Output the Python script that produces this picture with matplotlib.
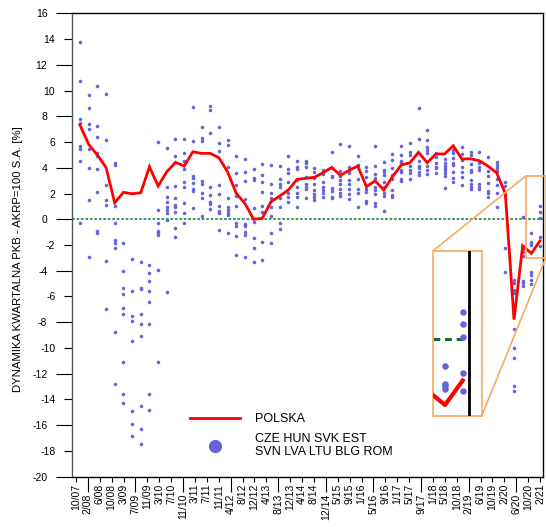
import numpy as np
import matplotlib
matplotlib.use('Agg')
import matplotlib.pyplot as plt
from matplotlib.lines import Line2D
from matplotlib.patches import Rectangle, ConnectionPatch

plt.rcParams['font.family'] = ['Liberation Sans', 'DejaVu Sans']
plt.rcParams['axes.unicode_minus'] = False

# ---------------- data ----------------
tick_labels = ['10/07', '2/08', '6/08', '10/08', '3/09', '7/09', '11/09', '3/10',
               '7/10', '11/10', '3/11', '7/11', '11/11', '4/12', '8/12', '12/12',
               '4/13', '8/13', '12/13', '4/14', '8/14', '12/14', '5/15', '9/15',
               '1/16', '5/16', '9/16', '1/17', '5/17', '9/17', '1/18', '5/18',
               '10/18', '2/19', '6/19', '10/19', '2/20', '6/20', '10/20', '2/21']

# Poland, quarterly 2007Q4 .. 2021Q1
polska = [7.31, 5.82, 4.99, 4.03, 1.28, 2.09, 1.98, 2.06, 4.08, 2.58,
          3.69, 4.42, 4.13, 5.24, 5.12, 5.12, 4.78, 3.69, 2.01, 1.23,
          0.00, 0.07, 1.36, 1.80, 2.27, 3.10, 3.18, 3.26, 3.61, 4.03,
          3.41, 3.80, 4.13, 2.53, 2.99, 2.27, 3.30, 4.21, 4.39, 5.20,
          4.39, 5.07, 5.07, 5.71, 4.68, 4.70, 4.55, 4.13, 3.61, 2.00,
          -7.80, -2.06, -2.65, -1.67]

# CZE HUN SVK EST SVN LVA LTU BLG ROM, per quarter
regional = [
    [13.79, 10.74, 7.79, 7.50, 5.71, 5.43, 4.50, -0.27],
    [9.65, 8.62, 7.37, 6.98, 5.43, 4.00, 1.49, -2.91],
    [10.35, 7.27, 6.36, 5.12, 4.93, 3.90, 2.14, -0.92, -1.05],
    [9.73, 6.15, 2.66, 1.49, 1.10, -3.22, -7.00],
    [4.39, 4.21, 1.03, -0.30, -1.62, -1.87, -2.26, -8.74, -12.83],
    [-1.87, -4.02, -5.37, -5.84, -6.88, -7.39, -11.12, -13.60, -14.30],
    [-3.07, -5.56, -7.52, -7.94, -9.49, -14.90, -15.94, -16.87],
    [-3.35, -5.37, -5.45, -7.39, -8.14, -9.05, -14.51, -16.27, -17.49],
    [-3.56, -4.16, -4.83, -5.60, -6.46, -8.14, -13.60, -14.82],
    [6.02, 0.70, -0.32, -0.92, -1.05, -1.23, -3.95, -11.12],
    [5.51, 2.53, 1.75, 1.31, 0.97, 0.71, 0.45, -0.06, -5.66],
    [6.23, 4.93, 2.58, 1.62, 1.10, 0.97, 0.58, -0.66, -1.41],
    [6.23, 5.12, 4.52, 3.88, 2.87, 2.53, 1.24, 0.51, -0.32],
    [8.69, 6.10, 3.38, 3.18, 2.79, 2.32, 2.19, 0.85],
    [7.19, 6.33, 6.08, 2.97, 2.74, 2.01, 1.62, 0.25],
    [8.80, 8.49, 6.67, 2.53, 1.88, 1.36, 1.18, 0.77],
    [7.19, 5.90, 5.32, 2.66, 1.96, 1.03, 0.64, 0.51, -0.84],
    [6.15, 5.77, 4.08, 1.62, 0.97, 0.71, 0.51, 0.33, -1.10],
    [4.93, 3.60, 2.63, 1.80, 1.03, -0.32, -0.50, -1.30, -2.78],
    [4.68, 3.64, 2.94, 1.57, -0.40, -0.53, -0.97, -1.23, -2.91],
    [3.90, 3.22, 3.05, 0.85, -0.24, -1.48, -2.26, -3.30],
    [4.29, 3.43, 2.87, 2.14, 1.03, 0.58, -1.75, -3.17],
    [4.21, 2.71, 2.06, 1.62, 0.97, 0.25, -1.10, -1.83],
    [4.13, 3.10, 2.71, 2.53, 1.62, 0.97, -0.32, -0.79],
    [4.91, 3.90, 3.61, 2.91, 2.01, 1.70, 1.36],
    [4.52, 4.08, 3.90, 3.05, 2.53, 2.01, 1.70, 0.92],
    [4.52, 4.34, 4.08, 3.30, 2.71, 2.53, 2.35, 1.67],
    [3.95, 3.69, 3.18, 2.71, 2.27, 1.96, 1.70, 1.49],
    [3.82, 3.51, 2.87, 2.48, 2.27, 2.06, 1.75],
    [5.20, 3.95, 3.36, 3.26, 2.40, 2.21, 1.75, 1.62],
    [5.84, 3.74, 3.36, 3.05, 2.71, 2.35, 2.01, 1.80],
    [5.69, 4.03, 3.77, 3.57, 3.05, 2.71, 2.35, 1.96, 1.55],
    [4.91, 4.21, 3.10, 2.37, 2.01, 0.92],
    [4.03, 3.74, 3.30, 2.35, 2.09, 1.41, 1.24],
    [5.69, 4.13, 3.51, 3.18, 2.53, 2.27, 1.93, 1.24, 1.03],
    [4.47, 3.82, 3.69, 3.43, 2.91, 2.48, 2.01, 1.80, 0.66],
    [5.10, 4.60, 4.00, 3.40, 3.10, 2.27, 1.90, 1.75],
    [5.71, 4.99, 4.55, 4.34, 3.82, 3.69, 3.10, 2.99],
    [5.90, 5.25, 4.99, 4.13, 3.82, 3.57, 3.12],
    [8.62, 6.23, 4.52, 4.16, 3.95, 3.69, 3.43],
    [6.93, 6.15, 5.59, 5.38, 5.12, 4.16, 3.82, 3.51],
    [5.17, 4.81, 4.39, 4.08, 3.95, 3.61],
    [4.65, 4.39, 4.13, 4.00, 3.82, 3.61, 3.36, 2.40],
    [5.38, 5.12, 4.73, 4.39, 4.21, 3.69, 3.18, 2.91],
    [5.63, 5.07, 4.60, 4.08, 3.69, 3.30, 2.66],
    [5.25, 4.99, 4.29, 3.82, 3.69, 3.05, 2.74, 2.48, 2.32],
    [5.20, 4.39, 4.08, 3.82, 2.74, 2.53, 2.32],
    [4.81, 3.74, 3.38, 2.79, 2.21, 2.01, 1.75],
    [4.47, 4.21, 3.95, 3.77, 3.10, 2.66, 2.01, 0.97],
    [2.90, 2.58, 1.88, -2.21, -4.08],
    [-4.70, -4.95, -5.50, -5.76, -8.56, -9.98, -10.80, -12.96, -13.35],
    [0.15, -2.30, -2.53, -2.86, -4.78, -4.98, -5.19],
    [-1.10, -1.80, -1.90, -2.00, -4.10, -4.35, -4.72, -5.03],
    [1.05, 0.60, 0.08, -1.36, -2.08],
]

legend_labels = ['POLSKA', 'CZE HUN SVK EST\nSVN LVA LTU BLG ROM']
ylabel = 'DYNAMIKA KWARTALNA PKB - AKRP=100 S.A. [%]'

# ---------------- style ----------------
RED = '#ff0000'
DOT = '#6464dc'
GREEN = '#3a9a60'
ORANGE = '#f8aa60'

W, H = 546, 527
fig = plt.figure(figsize=(W / 100, H / 100), dpi=100)
L, R, T, B = 71.7, 543.0, 13.3, 476.7
ax = fig.add_axes([L / W, 1 - B / H, (R - L) / W, (B - T) / H])

xq = np.arange(len(polska))
xs = np.concatenate([np.full(len(v), i) for i, v in enumerate(regional)])
ys = np.concatenate([np.asarray(v, float) for v in regional])

ax.axhline(0, color=GREEN, lw=1.4, ls=(0, (1.4, 0.9)), zorder=1)
ax.scatter(xs, ys, s=6.5, color=DOT, lw=0, zorder=2)
ax.plot(xq, polska, color=RED, lw=2.0, zorder=3, solid_joinstyle='miter')

xmin, xmax = -0.956, 53.34
ax.set_xlim(xmin, xmax)
ax.set_ylim(-20, 16)

# x ticks: short and long alternating groups
tick_pos = np.linspace(-0.46, 53.0, len(tick_labels))
short_idx = [i for i in range(len(tick_labels)) if i % 4 != 1]
long_idx = [i for i in range(len(tick_labels)) if i % 4 == 1]
ax.set_xticks(tick_pos[short_idx], [tick_labels[i] for i in short_idx], rotation=90)
ax.set_xticks(tick_pos[long_idx], [tick_labels[i] for i in long_idx], rotation=90, minor=True)
ax.tick_params(axis='x', which='major', length=3.6, width=0.8, pad=1.5, labelsize=7.5)
ax.tick_params(axis='x', which='minor', length=10.8, width=0.8, pad=1.5, labelsize=7.5)

ymaj = np.arange(-20, 17, 4)
ymin_t = np.arange(-18, 15, 4)
ax.set_yticks(ymaj, [str(v) for v in ymaj])
ax.set_yticks(ymin_t, [str(v) for v in ymin_t], minor=True)
ax.tick_params(axis='y', which='major', length=11.5, width=0.8, pad=6, labelsize=7.5)
ax.tick_params(axis='y', which='minor', length=5.8, width=0.8, pad=6, labelsize=7.5)

for s in ax.spines.values():
    s.set_linewidth(1.0)
    s.set_color('black')
ax.spines['left'].set_color('#555555')

ax.set_ylabel(ylabel, fontsize=8.2)
ax.yaxis.set_label_coords(-0.103, 0.47)

handles = [Line2D([], [], color=RED, lw=2.0),
           Line2D([], [], color=DOT, marker='o', ls='', markersize=9.5, markeredgewidth=0)]
ax.legend(handles, legend_labels, loc='upper left',
          bbox_to_anchor=(190 / W, 1 - 413 / H), bbox_transform=fig.transFigure,
          frameon=False, borderpad=0, borderaxespad=0, handlelength=4.0,
          handletextpad=1.2, labelspacing=0.6, fontsize=9)

# ---------------- inset ----------------
box_x0, box_x1 = 51.35, 53.65
box_y0, box_y1 = -3.04, 3.36
ax.add_patch(Rectangle((box_x0, box_y0), box_x1 - box_x0, box_y1 - box_y0,
                       fill=False, ec=ORANGE, lw=1.2, clip_on=False, zorder=5))

iax = fig.add_axes([433.3 / W, 1 - 416 / H, 48.4 / W, 165.3 / H])
ix0, ix1 = 51.34, 54.07
iax.set_xlim(ix0, ix1)
iax.set_ylim(-3.09, 3.52)
iax.hlines(0, ix0, xmax, color='#1e6b30', lw=2.2, linestyles=(0, (2.2, 1.6)), zorder=1)
iax.scatter(xs, ys, s=22, color=DOT, lw=0, zorder=2)
iax.plot(xq, polska, color=RED, lw=3.0, zorder=3)
iax.axvline(xmax, color='black', lw=2.0, zorder=4)
iax.set_xticks([])
iax.set_yticks([])
for s in iax.spines.values():
    s.set_color(ORANGE)
    s.set_linewidth(1.2)

for (cx, cy), (dx, dy) in [((0, 1), (box_x0, box_y1)), ((1, 0), (box_x1, box_y0))]:
    con = ConnectionPatch(xyA=(cx, cy), coordsA=iax.transAxes,
                          xyB=(dx, dy), coordsB=ax.transData,
                          color=ORANGE, lw=1.2)
    fig.add_artist(con)

fig.savefig('out.png', dpi=100)
